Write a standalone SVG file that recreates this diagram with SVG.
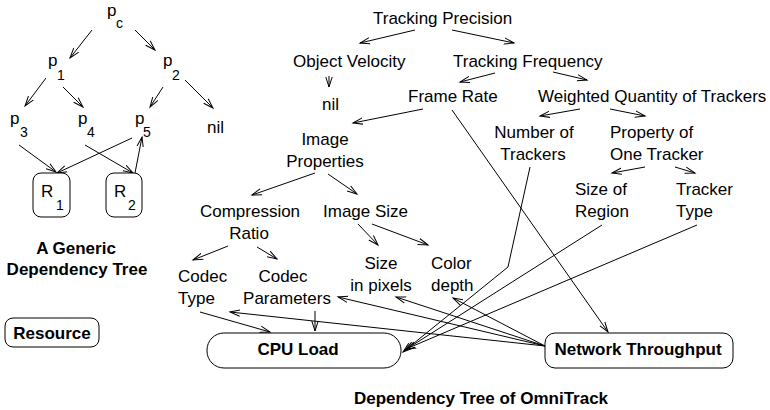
<svg xmlns="http://www.w3.org/2000/svg" width="770" height="410" viewBox="0 0 770 410">
<defs>
<style>
text{font-family:"Liberation Sans",Arial,Helvetica,sans-serif;font-size:17px;fill:#000}
.b{font-weight:bold}
.m{text-anchor:middle}
.s{font-size:14px}
.box{fill:#fff;stroke:#000;stroke-width:1}
.c line,.c polyline{stroke:#000;stroke-width:1;fill:none;marker-end:url(#a)}
</style>
<marker id="a" markerWidth="12" markerHeight="8" refX="10" refY="4" orient="auto" markerUnits="userSpaceOnUse">
<path d="M0,0.8 L10,4 L0,7.2" fill="none" stroke="#000" stroke-width="1"/>
</marker>
</defs>
<rect width="770" height="410" fill="#fff"/>

<g id="connectors" class="c">
<!-- generic tree -->
<line x1="92" y1="30" x2="70" y2="58"/>
<line x1="135" y1="30" x2="155" y2="50"/>
<line x1="46" y1="78" x2="25" y2="106"/>
<line x1="63" y1="87" x2="83" y2="107"/>
<line x1="163" y1="87" x2="150" y2="107"/>
<line x1="185" y1="80" x2="213" y2="108"/>
<line x1="19" y1="145" x2="56" y2="172"/>
<line x1="132" y1="138" x2="57" y2="173"/>
<line x1="85" y1="145" x2="133" y2="173"/>
<line x1="135" y1="173" x2="142" y2="137"/>
<!-- OmniTrack tree -->
<line x1="415" y1="30" x2="360" y2="43"/>
<line x1="452" y1="30" x2="514" y2="43"/>
<line x1="329" y1="76" x2="329" y2="87"/>
<line x1="495" y1="73" x2="460" y2="82"/>
<line x1="553" y1="72" x2="587" y2="80"/>
<line x1="423" y1="109" x2="353" y2="123"/>
<line x1="452" y1="110" x2="608" y2="332"/>
<line x1="580" y1="109" x2="540" y2="116"/>
<line x1="610" y1="109" x2="645" y2="116"/>
<line x1="645" y1="167" x2="612" y2="173"/>
<line x1="675" y1="167" x2="695" y2="173"/>
<line x1="315" y1="173" x2="252" y2="195"/>
<line x1="328" y1="174" x2="357" y2="194"/>
<line x1="228" y1="246" x2="193" y2="260"/>
<line x1="257" y1="247" x2="277" y2="259"/>
<line x1="358" y1="224" x2="378" y2="245"/>
<line x1="372" y1="224" x2="428" y2="245"/>
<line x1="200" y1="312" x2="270" y2="332"/>
<line x1="315" y1="311" x2="315" y2="331"/>
<line x1="545" y1="346" x2="230" y2="312"/>
<line x1="545" y1="346" x2="338" y2="297"/>
<line x1="545" y1="346" x2="396" y2="297"/>
<line x1="545" y1="346" x2="453" y2="298"/>
<polyline points="530,167 508,267 403,352"/>
<line x1="602" y1="225" x2="405" y2="350"/>
<line x1="697" y1="225" x2="406" y2="349"/>
</g>

<g id="pc"><text x="107" y="16">p</text><text class="s" x="116" y="28">c</text></g>
<g id="p1"><text x="48" y="66">p</text><text class="s" x="57" y="80">1</text></g>
<g id="p2"><text x="163" y="66">p</text><text class="s" x="172" y="80">2</text></g>
<g id="p3"><text x="10" y="124">p</text><text class="s" x="20" y="137">3</text></g>
<g id="p4"><text x="78" y="124">p</text><text class="s" x="87" y="137">4</text></g>
<g id="p5"><text x="135" y="124">p</text><text class="s" x="143" y="137">5</text></g>
<g id="nil1"><text x="207" y="133">nil</text></g>
<g id="R1"><rect class="box" x="33" y="173" width="37" height="44" rx="8"/><text x="41" y="197">R</text><text class="s" x="56" y="210">1</text></g>
<g id="R2"><rect class="box" x="106" y="173" width="36" height="44" rx="8"/><text x="114" y="197">R</text><text class="s" x="128" y="210">2</text></g>
<g id="generic-title"><text class="b m" x="76" y="254">A Generic</text><text class="b m" x="77" y="275">Dependency Tree</text></g>
<g id="resource"><rect class="box" x="5" y="318" width="94" height="29" rx="8"/><text class="b m" x="52" y="339">Resource</text></g>

<g id="tracking-precision"><text x="373" y="24">Tracking Precision</text></g>
<g id="object-velocity"><text x="293" y="67">Object Velocity</text></g>
<g id="tracking-frequency"><text x="453" y="67">Tracking Frequency</text></g>
<g id="nil2"><text x="322" y="110">nil</text></g>
<g id="frame-rate"><text x="408" y="102">Frame Rate</text></g>
<g id="weighted-quantity"><text x="538" y="102">Weighted Quantity of Trackers</text></g>
<g id="image-properties"><text class="m" x="325" y="145">Image</text><text class="m" x="325" y="167">Properties</text></g>
<g id="number-of-trackers"><text class="m" x="534" y="138">Number of</text><text class="m" x="533" y="160">Trackers</text></g>
<g id="property-of-one-tracker"><text x="610" y="138">Property of</text><text x="610" y="160">One Tracker</text></g>
<g id="size-of-region"><text x="575" y="195">Size of</text><text x="575" y="217">Region</text></g>
<g id="tracker-type"><text x="676" y="195">Tracker</text><text x="676" y="217">Type</text></g>
<g id="compression-ratio"><text class="m" x="250" y="217">Compression</text><text class="m" x="249" y="239">Ratio</text></g>
<g id="image-size"><text x="323" y="217">Image Size</text></g>
<g id="codec-type"><text x="178" y="282">Codec</text><text x="178" y="304">Type</text></g>
<g id="codec-parameters"><text class="m" x="283" y="282">Codec</text><text class="m" x="287" y="304">Parameters</text></g>
<g id="size-in-pixels"><text class="m" x="381" y="269">Size</text><text class="m" x="381" y="291">in pixels</text></g>
<g id="color-depth"><text x="431" y="269">Color</text><text x="431" y="291">depth</text></g>
<g id="cpu-load"><rect class="box" x="207" y="333" width="194" height="35" rx="17"/><text class="b m" x="298" y="355">CPU Load</text></g>
<g id="network-throughput"><rect class="box" x="545" y="333" width="188" height="35" rx="10"/><text class="b m" x="638" y="355">Network Throughput</text></g>
<g id="omnitrack-title"><text class="b m" x="481" y="404">Dependency Tree of OmniTrack</text></g>
</svg>
